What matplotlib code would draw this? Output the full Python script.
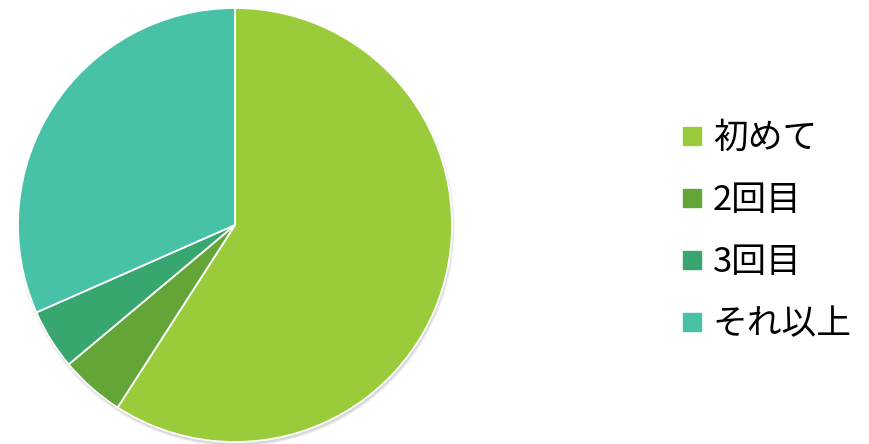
import matplotlib
matplotlib.use("Agg")
import matplotlib.pyplot as plt
from matplotlib.lines import Line2D
from matplotlib.patches import Circle

plt.rcParams['font.family'] = ['Noto Sans CJK JP', 'DejaVu Sans']

# data (percent)
labels = ['初めて', '2回目', '3回目', 'それ以上']
values = [59.1, 4.8, 4.5, 31.6]
colors = ['#9ACB3A', '#63A537', '#37A66F', '#47C2A6']

W, H = 869, 444
fig = plt.figure(figsize=(W / 100, H / 100), dpi=100)

# pie axes: centre ~ (235, 225) px, radius ~217 px
r = 217
cx, cy = 235, 225
pad = 1.03
R = r * pad
ax = fig.add_axes([(cx - R) / W, (H - cy - R) / H, 2 * R / W, 2 * R / H])

# soft shadow under the pie
for i, a in enumerate([0.10, 0.10, 0.12]):
    ax.add_patch(Circle((0.004, -0.012), 1.0 + 0.004 * (2 - i), color='#777777',
                        alpha=a, lw=0, zorder=0))

wedges, _ = ax.pie(values, colors=colors, startangle=90, counterclock=False,
                   radius=1.0, wedgeprops=dict(edgecolor='white', linewidth=1.3))
for w in wedges:
    w.set_zorder(2)
ax.set_xlim(-pad, pad)
ax.set_ylim(-pad, pad)
ax.set_aspect('equal')
ax.axis('off')

# legend with small square markers
handles = [Line2D([], [], marker='s', ls='', color=c, markersize=12.5) for c in colors]
fig.legend(handles, labels, loc='center left', bbox_to_anchor=(681.6 / W, (H - 231.8) / H),
           frameon=False, fontsize=25, labelspacing=0.78, handletextpad=0.3,
           handlelength=0.6, borderpad=0, borderaxespad=0)

fig.savefig('out.png', dpi=100)
